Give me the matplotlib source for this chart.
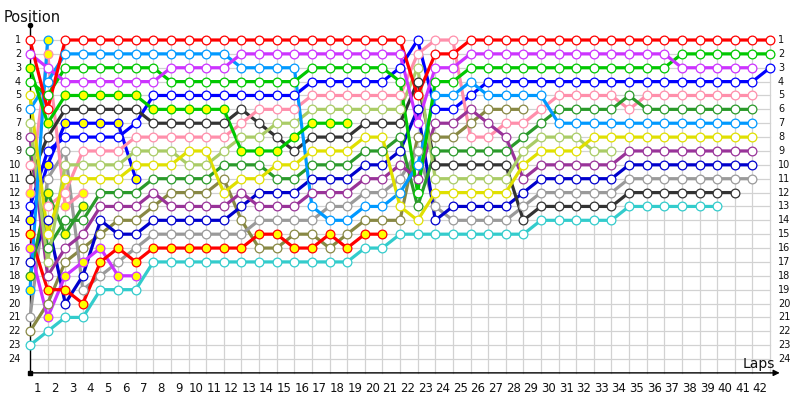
import matplotlib
matplotlib.use('Agg')
import matplotlib.pyplot as plt
import numpy as np

N = None
laps = list(range(0, 43))
positions = list(range(1, 25))
lap_labels = [str(i) for i in range(1, 43)]

# position per lap (lap 0 .. 42); None = not running
red = [1,6] + [1]*20 + [5,2,2] + [1]*18
pur = [2,3,4,4,4,4,4,4,3,3,3,3] + [2]*10 + [7,3,3] + [2]*12 + [3]*5 + [N]
grn = [4,5] + [3]*6 + [4]*8 + [3]*5 + [4,12,4,4] + [3]*12 + [2]*6
grn_y = [3,7] + [5]*5 + [6]*5 + [9]*3 + [8] + [7]*3 + [N]*24
yel = [5,15,11,11,11,11,10,10,10,9,9,12,11,11,10,10,9,9,9,8,8,13,14,12,12,12,12,12,10,9,9,9,8,8] + [8]*8 + [N]
lbl = [6,4] + [2]*10 + [3]*4 + [13,14,14,13,13,12,10,5,5,4] + [5]*4 + [7]*12 + [N]
lbl_y = [19,1] + [N]*41
lgr = [7,17,10,10,10,10,9,9,9,10,10,9,8,8,7,7,6,6,6,6,6,6,3,11,11,11,11,11,9,8,8,8,9,9] + [N]*9
dpu = [8,18,16,15,13,13,13,12,13,13,13,13,12,13,13,13,12,12,12,11,11,10,11,7,7,6,7,8,11,10,10,10,10,10] + [9]*8 + [N]
dgr = [9,16,14,14,12,12,12,11,11,11,11,10,10,10,11,11,10,10,10,9,9,8,13,9,9,9,9,9,8,7,6,6,6,6,5] + [6]*7 + [N]
dgr_y = [18,12,15,13] + [N]*39
pnk = [10,13,12,9,9,9,8] + [8]*5 + [7,6,6,6] + [5]*6 + [2,1,1,8,8,7,7,6] + [5]*4 + [6] + [5]*7 + [N]
pnk_y = [12,2,13,12] + [N]*39
blk = [11,8] + [6]*5 + [7]*5 + [6,7,8,9,8,8,8,7,7,7,4,10,10,10,10,10,14] + [13]*5 + [12]*7 + [N,N]
blu = [13,9] + [8]*4 + [7] + [5]*9 + [4]*5 + [3,1,6,6,5] + [4]*16 + [3]
blu_y = [14,10] + [7]*4 + [11] + [N]*36
red_y = [15,19,19,20,17,16,17,16,16,16,16,16,16,15,15,16,16,15,16,15,15] + [N]*22
pur_y = [16,21,18,17,16,18,18] + [N]*36
nav = [17,14,20,18,14,15,15,14,14,14,14,14,13,12,12,12,11,11,11,10,10,9,6,14,13,13,13,13,12] + [11]*5 + [10]*8 + [N]
gry = [21,11,9,19,18,17,16] + [15]*6 + [14]*4 + [13,13,12,12,11,9,13,14,14,14,14,13] + [12]*5 + [11]*8 + [N]
olv = [22,20,17,16,15,14,14,13,12,12,12,11,14,16,16,15,15,16,15,14,14,14,8,8,8,7,6,6,6] + [N]*14
cyn = [23,22,21,21,19,19,19] + [17]*12 + [16,16] + [15]*8 + [14]*5 + [13]*6 + [N]*3

WHITE = '#ffffff'
YFILL = '#ffff00'
series = [
    (cyn, '#33cccc', WHITE), (olv, '#888844', WHITE), (gry, '#9a9a9a', WHITE),
    (nav, '#0000cc', WHITE), (pur_y, '#cc33ff', YFILL), (red_y, '#ff0000', YFILL),
    (blu_y, '#0000ff', YFILL), (blu, '#0000ff', WHITE), (pnk_y, '#ff8fab', YFILL),
    (blk, '#333333', WHITE), (pnk, '#ff8fab', WHITE), (dgr_y, '#2a9a2a', YFILL),
    (dgr, '#2a9a2a', WHITE), (dpu, '#993399', WHITE), (lgr, '#aacc66', WHITE),
    (lbl_y, '#0099ff', YFILL), (lbl, '#0099ff', WHITE), (yel, '#e0e000', WHITE),
    (grn_y, '#00c800', YFILL), (grn, '#00c800', WHITE), (pur, '#cc33ff', WHITE),
    (red, '#ff0000', WHITE),
]

X0, DX, Y0, DY = 30.0, 17.62, 40.0, 13.87
fig = plt.figure(figsize=(8, 4), dpi=100)
ax = fig.add_axes([0, 0, 1, 1])
ax.set_xlim(-X0 / DX, (800 - X0) / DX)
ax.set_ylim(1 + (400 - Y0) / DY, 1 - Y0 / DY)
ax.axis('off')

gc = '#d2d2d2'
for l in laps[1:]:
    ax.plot([l, l], [1, 25], color=gc, lw=0.9, zorder=1)
for p in positions:
    ax.plot([0, 42], [p, p], color=gc, lw=0.9, zorder=1)

# axes
ax.plot([0, 0], [25, -0.1], color='black', lw=1.0, zorder=2)
ax.plot([0], [-0.1], marker='o', ms=3, color='black', zorder=2)
ax.plot([0], [25], marker='s', ms=2.5, color='black', zorder=2)
ax.annotate('', xy=(42.55, 25), xytext=(0, 25),
            arrowprops=dict(arrowstyle='-|>', color='black', lw=1.0,
                            mutation_scale=9, shrinkA=0, shrinkB=0), zorder=2)

for data, col, fill in series:
    y = np.array([np.nan if v is None else v for v in data], dtype=float)
    x = np.array(laps, dtype=float)
    ax.plot(x, y, color=col, lw=2.3, solid_capstyle='round', zorder=3)
    ax.plot(x, y, ls='none', marker='o', ms=6.3, mfc=fill, mec=col, mew=0.9, zorder=4)

for p in positions:
    ax.text(-0.51, p, str(p), ha='right', va='center', fontsize=7, color='#111111')
    ax.text(42.45, p, str(p), ha='left', va='center', fontsize=7, color='#111111')
for l, lab in zip(laps[1:], lap_labels):
    ax.text(l - 0.57, 1 + (388 - Y0) / DY, lab, ha='center', va='center', fontsize=8.5, color='#111111')

ax.text(-X0 / DX + 4 / DX, 1 + (22 - Y0) / DY, 'Position', ha='left', va='baseline', fontsize=10.5, color='#111111')
ax.text(1 + (743 - X0) / DX - 1, 1 + (368 - Y0) / DY, 'Laps', ha='left', va='baseline', fontsize=10, color='#111111')

fig.savefig('out.png', dpi=100)
